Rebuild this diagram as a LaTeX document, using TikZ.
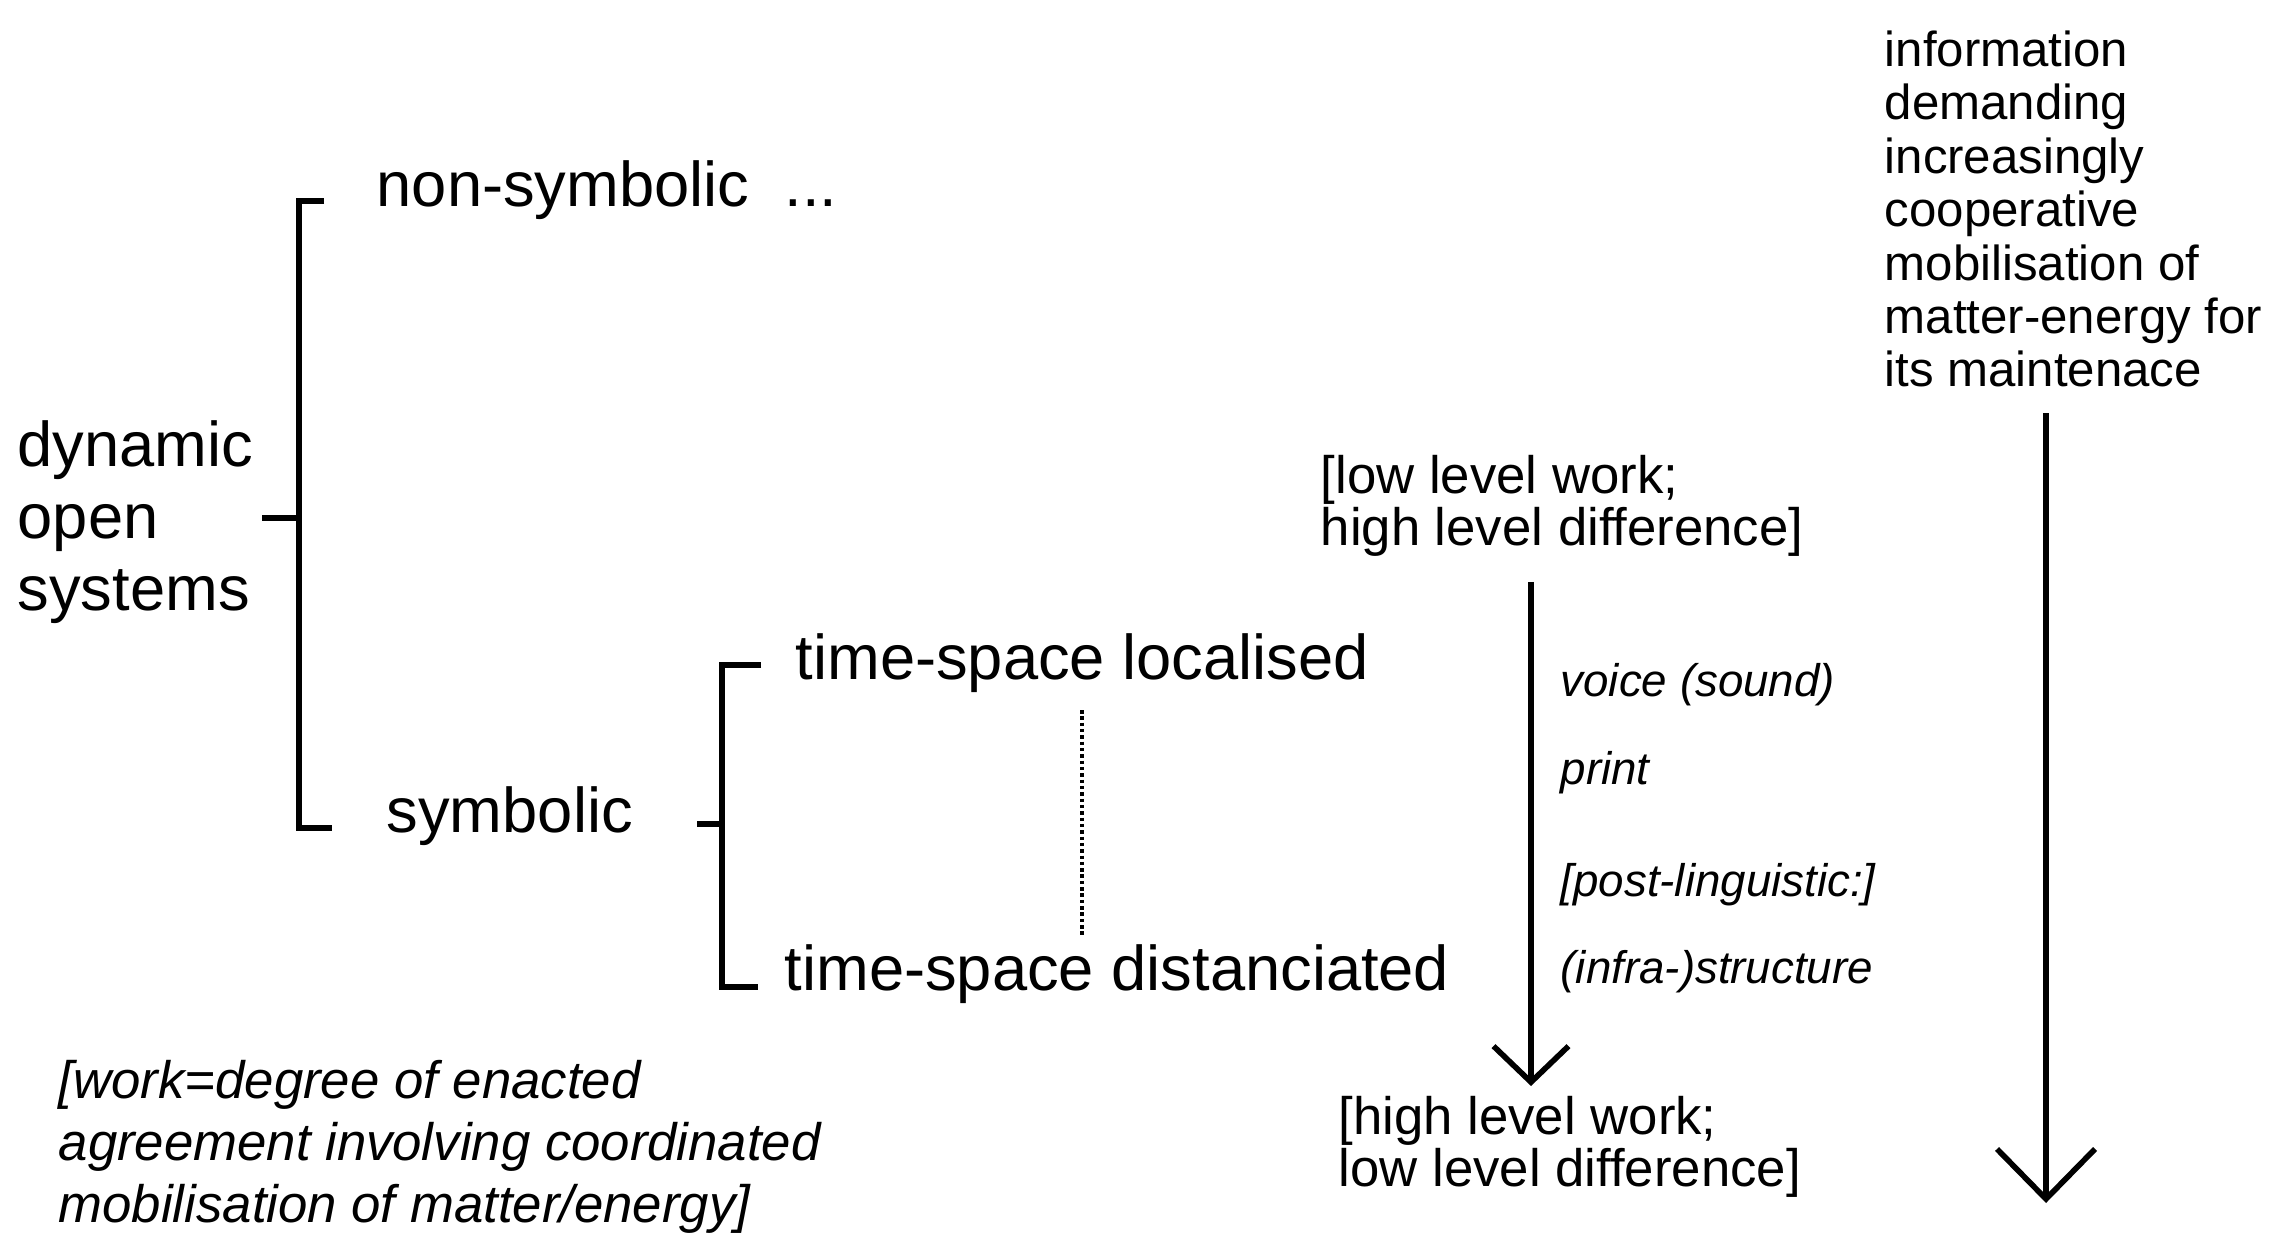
\documentclass[tikz,border=0pt]{standalone}
\usepackage{fontspec}
\setmainfont{Liberation Sans}
\usetikzlibrary{arrows.meta}

\begin{document}
\begin{tikzpicture}[
    every node/.style={inner sep=0pt, anchor=west, align=left},
    big/.style={font=\fontsize{18}{20.5}\selectfont},
    small/.style={font=\fontsize{15}{14.6}\selectfont},
    info/.style={font=\fontsize{14}{15.2}\selectfont},
    medium/.style={font=\fontsize{13}{15}\selectfont\itshape},
    note/.style={font=\fontsize{15}{17.6}\selectfont\itshape},
    brace/.style={line width=1.6pt},
    flow/.style={line width=1.6pt, -{Straight Barb[length=3.6mm, width=7.5mm, line width=1.6pt]}},
    bigflow/.style={line width=1.6pt, -{Straight Barb[length=5mm, width=9.8mm, line width=1.6pt]}}
  ]
    \useasboundingbox (0,0) rectangle (22.86,-12.39);

    \node[big] (dos)  at (0.17,-5.22) {dynamic\\open\\systems};
    \node[big] (nsym) at (3.76,-1.90) {non-symbolic \ ...};
    \node[big] (sym)  at (3.86,-8.16) {symbolic};
    \node[big] (tsl)  at (7.95,-6.63) {time-space localised};
    \node[big] (tsd)  at (7.84,-9.74) {time-space distanciated};

    \node[small] (lowW)  at (13.20,-5.06) {[low level work;\\high level difference]};
    \node[small] (highW) at (13.38,-11.47) {[high level work;\\low level difference]};

    \node[medium] (voice) at (15.60,-6.85) {voice (sound)};
    \node[medium] (print) at (15.60,-7.73) {print};
    \node[medium] (post)  at (15.60,-8.85) {[post-linguistic:]};
    \node[medium] (infra) at (15.60,-9.72) {(infra-)structure};

    \node[info, anchor=north west] (info) at (18.84,-0.30)
      {information\\demanding\\increasingly\\cooperative\\mobilisation of\\matter-energy for\\its maintenace};

    \node[note] (work) at (0.58,-11.47)
      {[work=degree of enacted\\agreement involving coordinated\\mobilisation of matter/energy]};

    \coordinate (bAt) at (2.99,-2.01);
    \coordinate (bAb) at (2.99,-8.28);
    \coordinate (bAm) at (2.99,-5.18);
    \coordinate (bBt) at (7.22,-6.65);
    \coordinate (bBb) at (7.22,-9.87);
    \coordinate (bBm) at (7.22,-8.24);
    \coordinate (end) at (20.46,-12.03);

    \draw[brace] (3.24,-2.01) -- (bAt) -- (bAb) -- (3.32,-8.28);
    \draw[brace] (2.62,-5.18) -- (bAm);
    \draw[brace] (7.61,-6.65) -- (bBt) -- (bBb) -- (7.58,-9.87);
    \draw[brace] (6.97,-8.24) -- (bBm);

    \draw[line width=1pt, dash pattern=on 1pt off 0.8pt] (10.82,-7.10) -- (10.82,-9.37);

    \draw[flow] (lowW.south -| 15.31,0) ++(0,-0.25) -- (15.31,-10.86);
    \draw[bigflow] (info.south -| end) ++(0,-0.25) -- (end);
\end{tikzpicture}
\end{document}
